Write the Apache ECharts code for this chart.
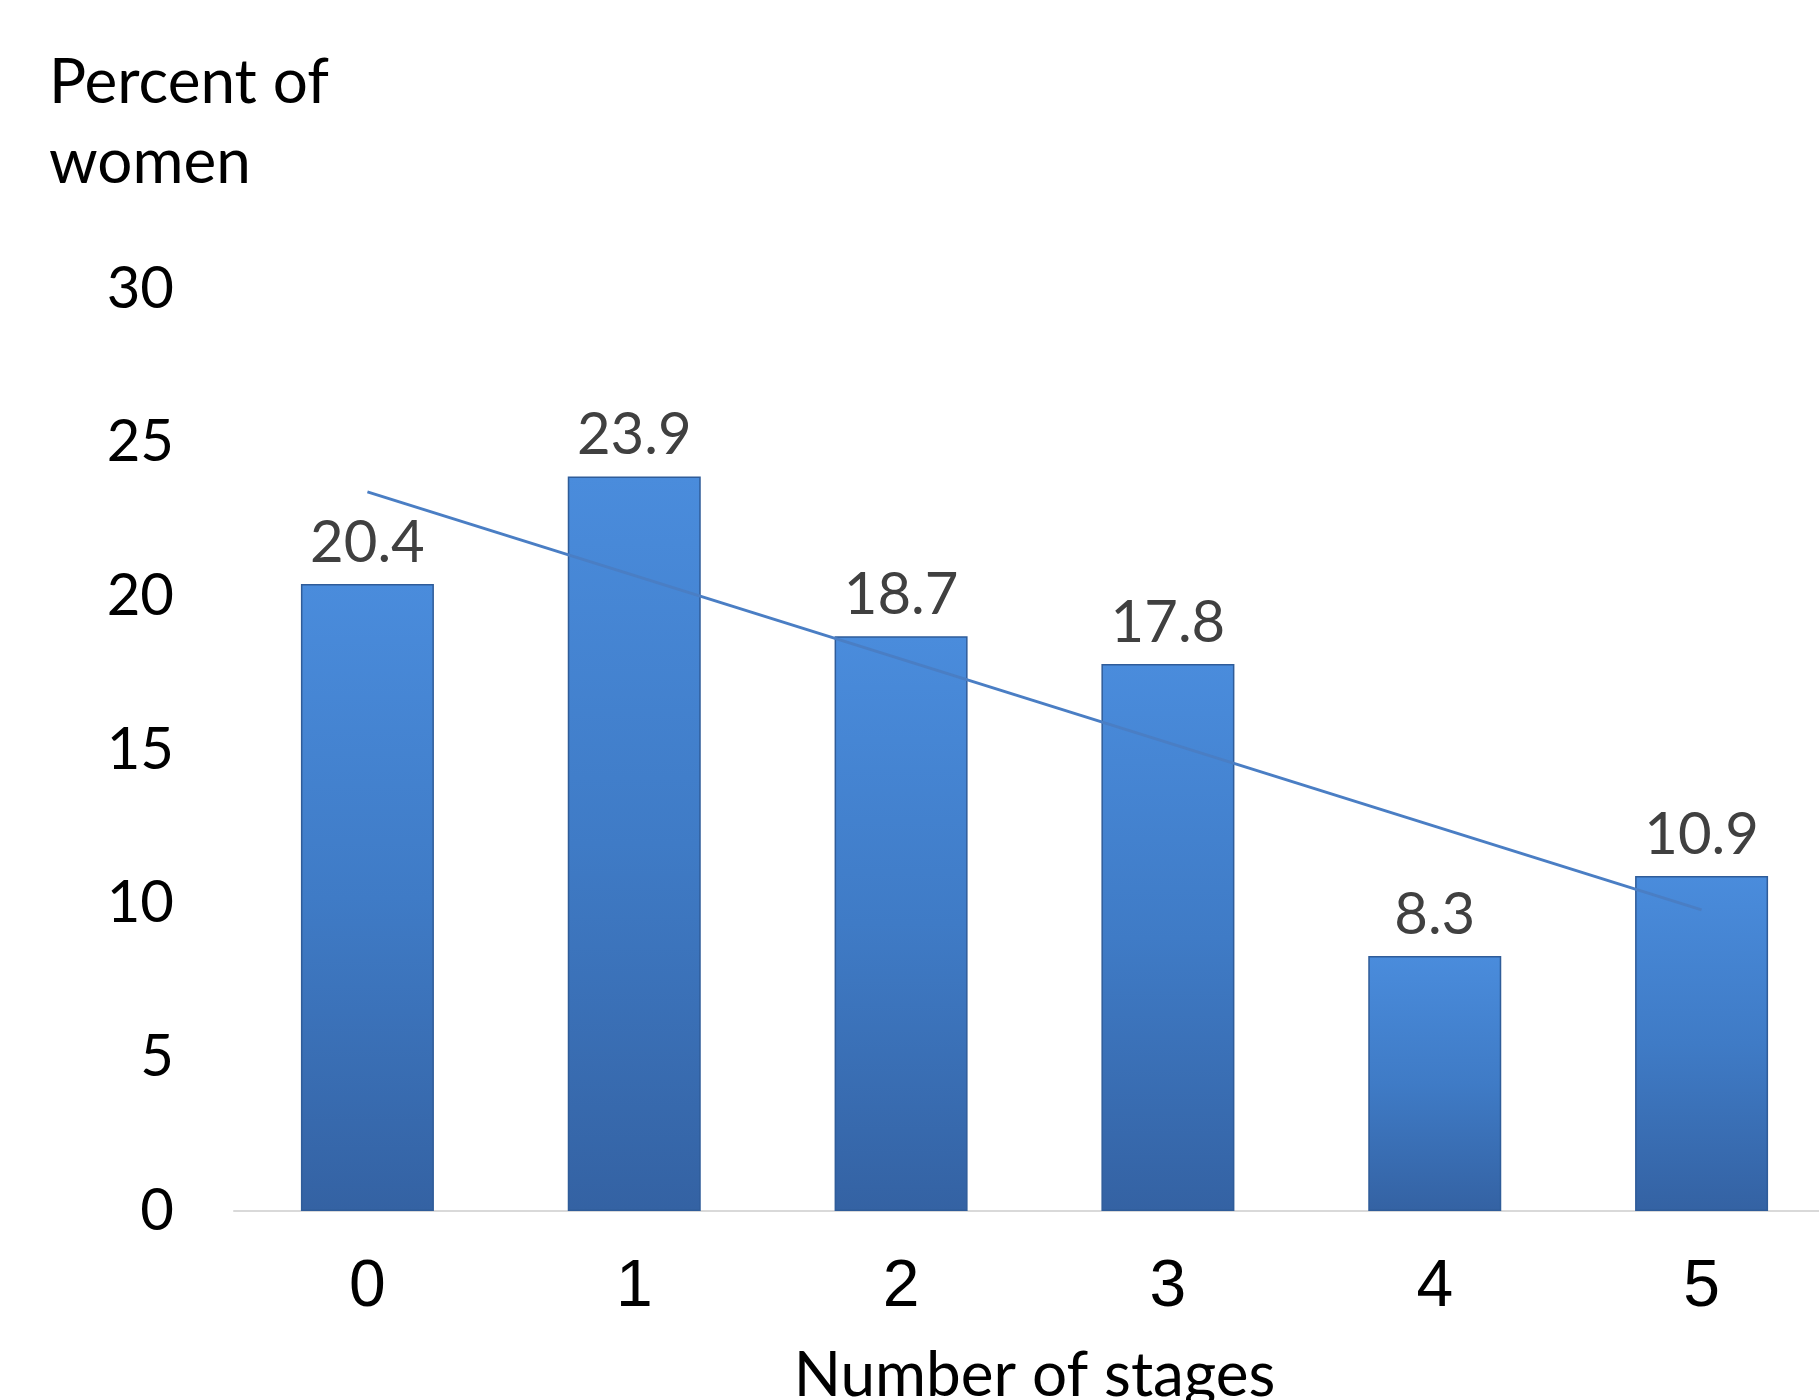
<!DOCTYPE html>
<html><head><meta charset="utf-8">
<script src="https://cdn.jsdelivr.net/npm/echarts@6/dist/echarts.min.js"></script>
<style>html,body{margin:0;padding:0;background:#fff}#c{width:1819px;height:1400px}</style>
</head><body><div id="c"></div>
<script>
const categories = ['0','1','2','3','4','5'];
const percentWomen = [20.4, 23.9, 18.7, 17.8, 8.3, 10.9];
const trendValues = [23.4, null, null, null, null, 9.8];
const yTicks = [0, 5, 10, 15, 20, 25, 30];

const gill = 'Lato';
const arial = 'Liberation Sans';
const chart = echarts.init(document.getElementById('c'));
chart.setOption({
  animation: false,
  backgroundColor: '#fff',
  textStyle: { fontFamily: arial },
  title: {
    text: 'Percent of\nwomen', left: 44, top: 38,
    textStyle: { fontFamily: gill, fontSize: 62, fontWeight: 'normal', color: '#000', lineHeight: 80 }
  },
  grid: { left: 234, width: 1601, top: 289, bottom: 189, containLabel: false, outerBoundsMode: 'none' },
  xAxis: {
    type: 'category', data: categories,
    name: 'Number of stages', nameLocation: 'middle', nameGap: 134,
    nameTextStyle: { fontFamily: gill, fontSize: 62, color: '#000' },
    axisLine: { lineStyle: { color: '#D9D9D9', width: 2 } },
    axisTick: { show: false },
    axisLabel: { fontFamily: arial, fontSize: 66, color: '#000', margin: 44,
      formatter: '{a|{value}}', rich: { a: { fontFamily: arial, fontSize: 66, color: '#000' } } }
  },
  yAxis: {
    type: 'value', min: yTicks[0], max: yTicks[yTicks.length-1], interval: 5,
    axisLine: { show: false }, axisTick: { show: false }, splitLine: { show: false },
    axisLabel: { fontFamily: gill, fontSize: 58, color: '#000', margin: 60 }
  },
  series: [{
    type: 'bar', data: percentWomen, barWidth: 133,
    itemStyle: {
      color: new echarts.graphic.LinearGradient(0, 0, 0, 1, [
        { offset: 0, color: '#4A8CDC' }, { offset: 0.5, color: '#3F7BC6' }, { offset: 1, color: '#3462A3' }
      ]),
      borderColor: '#2F5C99', borderWidth: 1.5
    },
    label: { show: true, position: 'top', distance: 12, fontFamily: gill, fontSize: 58, color: '#404040' }
  }, {
    type: 'line', data: trendValues, connectNulls: true, symbol: 'none',
    lineStyle: { color: '#4A7EC4', width: 3 }, z: 5
  }]
});
</script></body></html>
